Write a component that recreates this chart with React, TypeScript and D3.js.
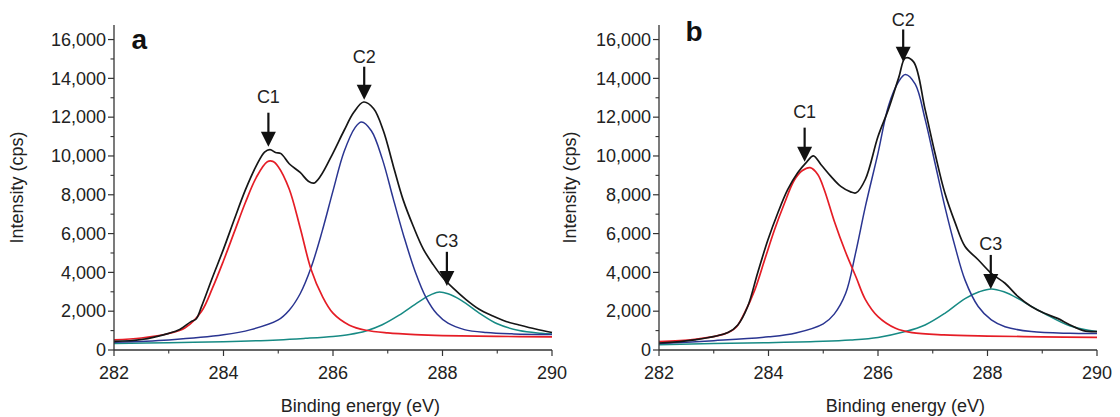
import React from "react";
import * as d3 from "d3";

type Pt = [number, number];

// ---------- Data (binding energy eV, intensity cps) ----------
const xTicksMajor = [282, 284, 286, 288, 290];
const xTicksMinor = [283, 285, 287, 289];
const yTicksMajor = [0, 2000, 4000, 6000, 8000, 10000, 12000, 14000, 16000];
const yTicksMinor = [1000, 3000, 5000, 7000, 9000, 11000, 13000, 15000];

const aC1: Pt[] = [[282,520],[282.5,620],[283,850],[283.3,1150],[283.6,2000],[283.8,3200],[284,4600],[284.2,6100],[284.4,7600],[284.6,8900],[284.8,9700],[284.9,9720],[285,9450],[285.2,8300],[285.4,6300],[285.6,4150],[285.8,2800],[286,1900],[286.3,1280],[286.6,1020],[287,880],[287.5,790],[288,740],[289,700],[290,680]];
const aC2: Pt[] = [[282,400],[283,520],[284,780],[284.5,1050],[285,1550],[285.2,2050],[285.4,2900],[285.6,4250],[285.8,6100],[286,8200],[286.2,10200],[286.4,11450],[286.52,11750],[286.7,11300],[286.9,9850],[287.1,7800],[287.3,5800],[287.5,4050],[287.7,2700],[287.9,1850],[288.1,1380],[288.4,1050],[288.8,900],[289.3,830],[290,800]];
const aC3: Pt[] = [[282,330],[283,380],[284,430],[285,520],[285.5,600],[286,700],[286.3,800],[286.6,980],[286.9,1300],[287.2,1780],[287.5,2350],[287.75,2800],[287.92,2980],[288.1,2900],[288.35,2550],[288.7,1850],[289,1350],[289.4,1000],[289.8,860],[290,820]];
const aEnv: Pt[] = [[282,440],[282.5,540],[283,860],[283.2,1060],[283.4,1450],[283.5,1600],[283.6,2250],[283.8,3750],[284,5200],[284.2,6750],[284.4,8250],[284.6,9500],[284.75,10200],[284.85,10330],[284.95,10180],[285.05,10120],[285.2,9600],[285.4,9150],[285.55,8700],[285.65,8600],[285.77,8950],[286,10150],[286.2,11300],[286.38,12250],[286.56,12780],[286.74,12450],[286.92,11300],[287.1,9500],[287.28,7750],[287.47,6350],[287.65,5200],[287.83,4400],[288,3750],[288.19,3200],[288.43,2600],[288.67,2100],[288.92,1750],[289.16,1470],[289.4,1290],[289.7,1080],[290,900]];

const bC1: Pt[] = [[282,430],[282.65,550],[283.2,830],[283.4,1150],[283.56,1900],[283.75,3100],[283.93,4650],[284.11,6200],[284.29,7550],[284.47,8750],[284.62,9250],[284.76,9400],[284.9,9050],[285.02,8250],[285.2,6650],[285.4,5100],[285.6,3750],[285.77,2600],[286,1720],[286.32,1120],[286.62,900],[287.2,780],[288,720],[289,680],[290,650]];
const bC2: Pt[] = [[282,330],[283,480],[284,680],[284.5,880],[285,1350],[285.2,1850],[285.41,2920],[285.59,4990],[285.77,7400],[286,10150],[286.19,12560],[286.38,13850],[286.5,14200],[286.68,13700],[286.86,11900],[287.04,9650],[287.22,7400],[287.41,5300],[287.59,3600],[287.83,2240],[288.07,1550],[288.32,1200],[288.8,950],[289.5,860],[290,850]];
const bC3: Pt[] = [[282,270],[283,330],[284,380],[285,450],[285.5,520],[286,650],[286.5,950],[286.86,1290],[287.22,1890],[287.59,2650],[287.85,3000],[288.07,3150],[288.3,3000],[288.56,2650],[288.8,2250],[289.04,1880],[289.5,1250],[290,950]];
const bEnv: Pt[] = [[282,360],[282.65,520],[283.26,900],[283.44,1290],[283.62,2240],[283.8,3960],[283.99,5680],[284.17,7060],[284.35,8260],[284.53,9120],[284.7,9700],[284.82,10000],[284.96,9550],[285.14,8950],[285.32,8430],[285.5,8150],[285.6,8100],[285.77,8800],[286,11000],[286.19,12400],[286.38,14050],[286.5,15050],[286.65,14850],[286.86,12400],[287.04,10150],[287.22,8100],[287.41,6550],[287.59,5330],[287.83,4650],[288.07,3950],[288.32,3440],[288.56,2750],[288.8,2240],[289.04,1890],[289.28,1630],[289.5,1300],[289.75,1000],[290,950]];

// annotation: [label, x eV, label baseline, shaft top, arrow tip]
type Ann = [string, number, number, number, number];
const aAnn: Ann[] = [["C1", 284.82, 12750, 12230, 10480], ["C2", 286.57, 14810, 14600, 12900], ["C3", 288.08, 5320, 5060, 3300]];
const bAnn: Ann[] = [["C1", 284.66, 11970, 11460, 9700], ["C2", 286.46, 16720, 16520, 14860], ["C3", 288.06, 5160, 4900, 3150]];

const panelLetters = ["a", "b"];
const letterPos: Pt[] = [[282.46, 15500], [282.64, 15900]];

const xDomain: Pt = [282, 290];
const yDomain: Pt = [0, 16750];

const COLORS = { env: "#161616", c1: "#e51d26", c2: "#2a3591", c3: "#178a84" };
const FONT = "'Liberation Sans', Arial, Helvetica, sans-serif";

interface PanelProps {
  left: number;
  right: number;
  letter: string;
  letterAt: Pt;
  env: Pt[];
  c1: Pt[];
  c2: Pt[];
  c3: Pt[];
  ann: Ann[];
  yTitleX: number;
}

const TOP = 25;
const BOTTOM = 350;

function Panel(p: PanelProps) {
  const x = d3.scaleLinear().domain(xDomain).range([p.left, p.right]);
  const y = d3.scaleLinear().domain(yDomain).range([BOTTOM, TOP]);
  const line = d3
    .line<Pt>()
    .x((d) => x(d[0]))
    .y((d) => y(d[1]))
    .curve(d3.curveCatmullRom.alpha(0.5));
  const fmt = d3.format(",");
  const axisColor = "#333";
  return (
    <g>
      {/* components */}
      <path d={line(p.c3) || ""} fill="none" stroke={COLORS.c3} strokeWidth={1.5} />
      <path d={line(p.c2) || ""} fill="none" stroke={COLORS.c2} strokeWidth={1.5} />
      <path d={line(p.c1) || ""} fill="none" stroke={COLORS.c1} strokeWidth={1.7} />
      <path d={line(p.env) || ""} fill="none" stroke={COLORS.env} strokeWidth={1.7} />

      {/* axes */}
      <line x1={p.left} x2={p.left} y1={TOP} y2={BOTTOM} stroke={axisColor} strokeWidth={1.3} />
      <line x1={p.left} x2={p.right} y1={BOTTOM} y2={BOTTOM} stroke={axisColor} strokeWidth={1.3} />
      {yTicksMajor.map((t) => (
        <g key={"ym" + t}>
          <line x1={p.left - 6} x2={p.left} y1={y(t)} y2={y(t)} stroke={axisColor} strokeWidth={1.2} />
          <text x={p.left - 8} y={y(t)} dy="0.35em" textAnchor="end" fontSize={18} fontFamily={FONT} fill="#222">
            {fmt(t)}
          </text>
        </g>
      ))}
      {yTicksMinor.map((t) => (
        <line key={"yn" + t} x1={p.left - 3.5} x2={p.left} y1={y(t)} y2={y(t)} stroke={axisColor} strokeWidth={1.1} />
      ))}
      {xTicksMajor.map((t) => (
        <g key={"xm" + t}>
          <line x1={x(t)} x2={x(t)} y1={BOTTOM} y2={BOTTOM + 6} stroke={axisColor} strokeWidth={1.2} />
          <text x={x(t)} y={BOTTOM + 29} textAnchor="middle" fontSize={18} fontFamily={FONT} fill="#222">
            {t}
          </text>
        </g>
      ))}
      {xTicksMinor.map((t) => (
        <line key={"xn" + t} x1={x(t)} x2={x(t)} y1={BOTTOM} y2={BOTTOM + 3.5} stroke={axisColor} strokeWidth={1.1} />
      ))}

      {/* titles */}
      <text x={x(286.5)} y={412} textAnchor="middle" fontSize={18} fontFamily={FONT} fill="#222">
        Binding energy (eV)
      </text>
      <text
        transform={`translate(${p.yTitleX},${(TOP + BOTTOM) / 2}) rotate(-90)`}
        textAnchor="middle"
        fontSize={18}
        fontFamily={FONT}
        fill="#222"
      >
        Intensity (cps)
      </text>

      {/* panel letter */}
      <text x={x(p.letterAt[0])} y={y(p.letterAt[1])} textAnchor="middle" fontSize={28} fontWeight="bold" fontFamily={FONT} fill="#111">
        {p.letter}
      </text>

      {/* annotations */}
      {p.ann.map(([lab, ex, base, top, tip]) => {
        const cx = x(ex);
        const ty = y(tip);
        const headH = 15;
        const headW = 7.5;
        return (
          <g key={lab}>
            <text x={cx} y={y(base)} textAnchor="middle" fontSize={18} fontFamily={FONT} fill="#222">
              {lab}
            </text>
            <line x1={cx} x2={cx} y1={y(top)} y2={ty - headH + 2} stroke="#111" strokeWidth={2.2} />
            <path d={`M${cx - headW},${ty - headH} L${cx + headW},${ty - headH} L${cx},${ty} Z`} fill="#111" />
          </g>
        );
      })}
    </g>
  );
}

export default function App() {
  return (
    <svg
      width={1120}
      height={417}
      viewBox="0 0 1120 417"
      style={{ position: "absolute", left: 0, top: 0, background: "#fff" }}
    >
      <rect x={0} y={0} width={1120} height={417} fill="#fff" />
      <Panel left={114} right={552} letter={panelLetters[0]} letterAt={letterPos[0]} env={aEnv} c1={aC1} c2={aC2} c3={aC3} ann={aAnn} yTitleX={23} />
      <Panel left={659} right={1097} letter={panelLetters[1]} letterAt={letterPos[1]} env={bEnv} c1={bC1} c2={bC2} c3={bC3} ann={bAnn} yTitleX={576} />
    </svg>
  );
}
